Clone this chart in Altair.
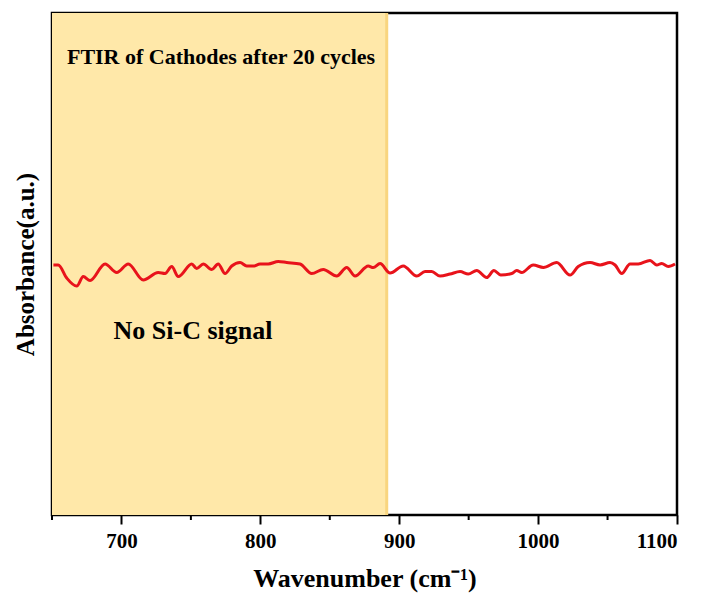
import altair as alt
import pandas as pd

wavenumber = [651, 654.5, 660.6, 667.8, 672.5, 677.4, 688.2, 696.6, 704.9, 715.7,
              726.5, 731.4, 736.2, 740.9, 750.6, 754.2, 758.9, 765.0, 769.7, 774.6,
              779.4, 785.4, 790.2, 794.9, 799.8, 805.7, 812.9, 819.0, 828.6, 837.0,
              845.3, 855.0, 862.2, 868.2, 877.7, 881.3, 886.2, 893.4, 902.9, 912.6,
              918.6, 923.4, 929.4, 936.6, 943.8, 949.7, 955.8, 963.0, 968.2, 973.1,
              981.0, 984.6, 988.2, 996.5, 1003.8, 1013.4, 1023.0, 1028.9, 1037.4, 1044.6,
              1051.8, 1055.4, 1060.2, 1066.2, 1072.1, 1080.6, 1085.4, 1089.0, 1093.7, 1098.6]
absorbance = [0.498, 0.498, 0.472, 0.456, 0.475, 0.467, 0.500, 0.483, 0.500, 0.468,
              0.483, 0.481, 0.495, 0.475, 0.500, 0.491, 0.500, 0.489, 0.500, 0.481,
              0.496, 0.503, 0.496, 0.496, 0.500, 0.500, 0.505, 0.503, 0.500, 0.481,
              0.489, 0.476, 0.493, 0.476, 0.496, 0.493, 0.501, 0.482, 0.496, 0.476,
              0.485, 0.485, 0.476, 0.480, 0.485, 0.480, 0.487, 0.473, 0.487, 0.478,
              0.481, 0.487, 0.483, 0.498, 0.493, 0.503, 0.478, 0.495, 0.503, 0.498,
              0.503, 0.498, 0.481, 0.500, 0.500, 0.507, 0.498, 0.501, 0.495, 0.500]

major_ticks = [700, 800, 900, 1000, 1100]
minor_ticks = [650, 750, 850, 950, 1050]
region_start = [650]
region_end = [891]
ann_text = ["FTIR of Cathodes after 20 cycles", "No Si-C signal"]
ann_x = [771.7, 751.5]
ann_y = [0.912, 0.367]
ann_size = [22, 26]

FONT = "Liberation Serif"
W, H = 625, 502

xscale = alt.Scale(domain=[650, 1100], nice=False, zero=False)
yscale = alt.Scale(domain=[0, 1], nice=False, zero=False)

line_df = pd.DataFrame({"w": wavenumber, "a": absorbance})
region_df = pd.DataFrame({"x1": region_start, "x2": region_end})
minor_df = pd.DataFrame({"m": minor_ticks})
ann_df = pd.DataFrame({"t": ann_text, "x": ann_x, "y": ann_y, "s": ann_size})

region = alt.Chart(region_df).mark_rect(color="#FFE8A9").encode(
    x=alt.X("x1:Q", scale=xscale,
            axis=alt.Axis(values=major_ticks, format="d", title="Wavenumber (cm⁻¹)", grid=False,
                          labelFont=FONT, labelFontSize=21, labelFontWeight="bold",
                          labelColor="black", labelPadding=6,
                          titleFont=FONT, titleFontSize=26, titleFontWeight="bold",
                          titleColor="black", titlePadding=14,
                          domain=False, tickColor="black", tickWidth=2, tickSize=9)),
    x2="x2:Q",
    y=alt.value(0), y2=alt.value(H),
)

region_edge = alt.Chart(region_df).mark_rule(color="#F9D57F", strokeWidth=3).encode(
    x=alt.X("x2:Q", scale=xscale), y=alt.value(0), y2=alt.value(H),
)

minor = alt.Chart(minor_df).mark_rule(color="black", strokeWidth=2, clip=False).encode(
    x=alt.X("m:Q", scale=xscale), y=alt.value(H), y2=alt.value(H + 5),
)

line = alt.Chart(line_df).mark_line(color="#E8131B", strokeWidth=3, interpolate="monotone").encode(
    x=alt.X("w:Q", scale=xscale),
    y=alt.Y("a:Q", scale=yscale,
            axis=alt.Axis(title="Absorbance(a.u.)", labels=False, ticks=False, grid=False,
                          domain=False, titleFont=FONT, titleFontSize=25,
                          titleFontWeight="bold", titleColor="black", titlePadding=14)),
)

ann = alt.Chart(ann_df).mark_text(font=FONT, fontWeight="bold", color="black").encode(
    x=alt.X("x:Q", scale=xscale), y=alt.Y("y:Q", scale=yscale),
    text="t:N", size=alt.Size("s:Q", scale=None, legend=None),
)

chart = alt.layer(region, region_edge, minor, line, ann).properties(
    width=W, height=H,
    autosize=alt.AutoSizeParams(type="none"),
    padding={"left": 52, "top": 13, "right": 27, "bottom": 88},
).configure(background="white").configure_view(stroke="black", strokeWidth=2.5)

chart.save("out.html", embed_options={"renderer": "svg", "actions": False})
